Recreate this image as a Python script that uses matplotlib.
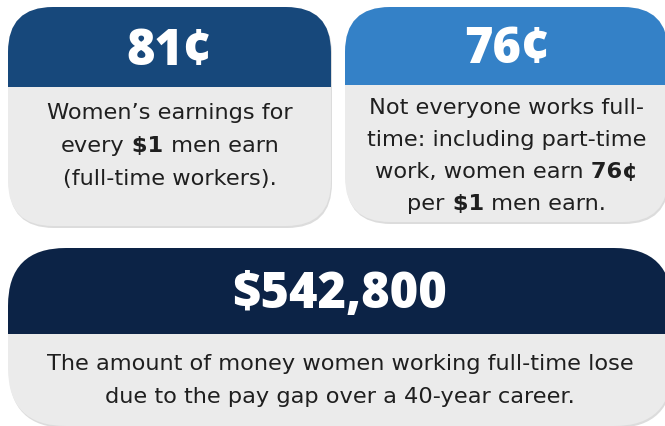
import matplotlib
matplotlib.use("Agg")
import matplotlib.pyplot as plt
from matplotlib.patches import FancyBboxPatch, Rectangle

# ---- content ----
headlines = ["81¢", "76¢", "$542,800"]
descriptions = [
    [[("Women’s earnings for", False)],
     [("every", False), (" $1", True), (" men earn", False)],
     [("(full-time workers).", False)]],
    [[("Not everyone works full-", False)],
     [("time: including part-time", False)],
     [("work, women earn", False), (" 76¢", True)],
     [("per", False), (" $1", True), (" men earn.", False)]],
    [[("The amount of money women working full-time lose", False)],
     [("due to the pay gap over a 40-year career.", False)]],
]
header_colors = ["#17487b", "#3481c7", "#0c2346"]
body_color = "#ebebeb"
text_color = "#1f1f1f"

# ---- layout (pixels, y downward) ----
# x0, y0, x1, y1, header bottom, corner radius
boxes = [(8, 7, 331, 226, 87, 45),
         (345, 7, 668, 222, 85, 45),
         (8, 248, 672, 426, 334, 58)]
head_baseline = [65, 63, 308]
body_first_baseline = [119, 114, 370]
body_spacing = [33, 32, 33]
HEAD_FONT = "Open Sans"
BODY_FONT = "DejaVu Sans"
HEAD_SIZE = 35
BODY_SIZE = 16.2

fig = plt.figure(figsize=(6.65, 4.26), dpi=100)
ax = fig.add_axes([0, 0, 1, 1])
ax.set_xlim(0, 665)
ax.set_ylim(426, 0)
ax.axis("off")
renderer = fig.canvas.get_renderer()

for i, (x0, y0, x1, y1, hb, r) in enumerate(boxes):
    w, h = x1 - x0, y1 - y0
    sh = FancyBboxPatch((x0 + 1, y0 + 2), w, h,
                        boxstyle=f"round,pad=0,rounding_size={r}",
                        facecolor="#dcdcdc", edgecolor="none", zorder=0.5)
    ax.add_patch(sh)
    body = FancyBboxPatch((x0, y0), w, h,
                          boxstyle=f"round,pad=0,rounding_size={r}",
                          facecolor=body_color, edgecolor="none", zorder=1)
    ax.add_patch(body)
    head = Rectangle((x0, y0), w, hb - y0, facecolor=header_colors[i],
                     edgecolor="none", zorder=2)
    ax.add_patch(head)
    head.set_clip_path(body)
    cx = (x0 + x1) / 2
    ax.text(cx, head_baseline[i], headlines[i], ha="center", va="baseline",
            fontsize=HEAD_SIZE, fontweight=800, family=HEAD_FONT,
            color="white", zorder=3)
    for j, line in enumerate(descriptions[i]):
        yb = body_first_baseline[i] + j * body_spacing[i]
        objs = []
        for seg, bold in line:
            t = ax.text(0, yb, seg, ha="left", va="baseline",
                        fontsize=BODY_SIZE, family=BODY_FONT,
                        fontweight="bold" if bold else "normal",
                        color=text_color, zorder=3)
            objs.append(t)
        widths = [t.get_window_extent(renderer).width for t in objs]
        total = sum(widths)
        x = cx - total / 2
        for t, wd in zip(objs, widths):
            t.set_x(x)
            x += wd

fig.savefig("out.png", dpi=100, facecolor="white")
